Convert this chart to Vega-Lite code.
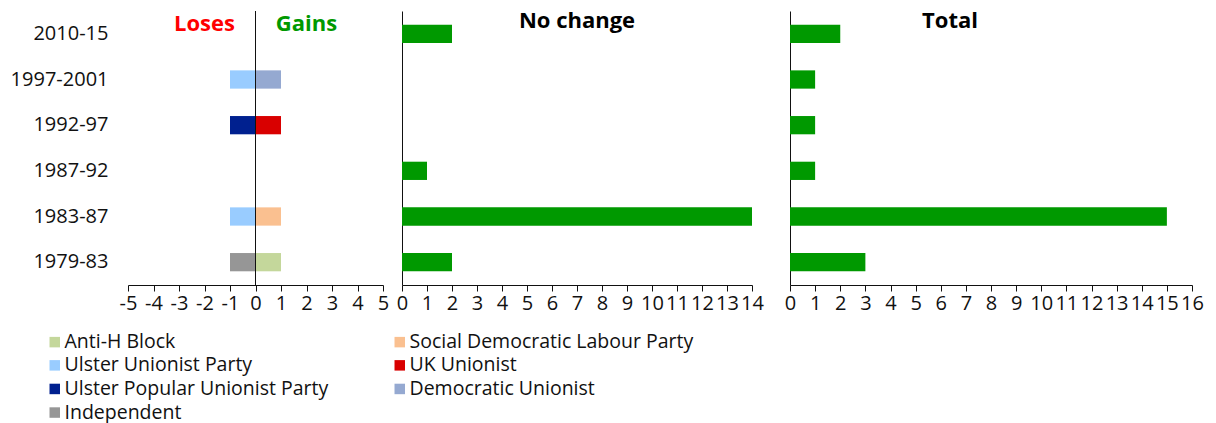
{
  "$schema": "https://vega.github.io/schema/vega-lite/v6.json",
  "padding": {"left": 10, "top": 10, "right": 5, "bottom": 5},
  "bounds": "flush",
  "spacing": 19,
  "config": {
    "font": "Open Sans",
    "view": {"stroke": null},
    "axis": {"labelFont": "Open Sans", "labelFontSize": 20, "labelColor": "#111111", "domainColor": "#111111", "tickColor": "#111111", "grid": false, "title": null, "labelFlush": false, "labelOverlap": false, "tickSize": 6},
    "title": {"font": "Open Sans", "fontSize": 22, "fontWeight": "bold", "color": "#000000"}
  },
  "hconcat": [
    {
      "width": 255,
      "height": 274,
      "encoding": {
        "y": {"field": "period", "type": "nominal", "scale": {"domain": ["2010-15", "1997-2001", "1992-97", "1987-92", "1983-87", "1979-83"], "paddingInner": 0.6, "paddingOuter": 0.3}, "axis": {"domain": false, "ticks": false, "labelPadding": 20, "title": null}},
        "x": {"field": "seats", "type": "quantitative", "scale": {"domain": [-5, 5]}, "axis": {"values": [-5, -4, -3, -2, -1, 0, 1, 2, 3, 4, 5], "title": null, "labelOverlap": false, "labelFlush": false, "labelExpr": "datum.value < 0 ? '-' + abs(datum.value) : '' + datum.value"}}
      },
      "layer": [
        {
          "data": {"values": [
            {"period": "1997-2001", "party": "Ulster Unionist Party", "seats": -1},
            {"period": "1997-2001", "party": "Democratic Unionist", "seats": 1},
            {"period": "1992-97", "party": "Ulster Popular Unionist Party", "seats": -1},
            {"period": "1992-97", "party": "UK Unionist", "seats": 1},
            {"period": "1983-87", "party": "Ulster Unionist Party", "seats": -1},
            {"period": "1983-87", "party": "Social Democratic Labour Party", "seats": 1},
            {"period": "1979-83", "party": "Independent", "seats": -1},
            {"period": "1979-83", "party": "Anti-H Block", "seats": 1}
          ]},
          "mark": {"type": "bar"},
          "encoding": {
            "color": {
              "field": "party", "type": "nominal",
              "scale": {"domain": ["Anti-H Block", "Ulster Unionist Party", "Ulster Popular Unionist Party", "Independent", "Social Democratic Labour Party", "UK Unionist", "Democratic Unionist"],
                        "range": ["#c4d79b", "#99ccff", "#00208f", "#969696", "#fac090", "#d90000", "#95a9d1"]},
              "legend": {"orient": "none", "legendX": -83, "legendY": 321, "columns": 2, "columnPadding": 61, "symbolType": "square", "symbolSize": 110, "symbolStrokeWidth": 0, "labelFontSize": 19.5, "labelFont": "Open Sans", "labelColor": "#111111", "labelLimit": 500, "title": null, "rowPadding": 2.6, "labelOffset": 0}
            }
          }
        },
        {
          "data": {"values": [{"seats": 0}]},
          "mark": {"type": "rule", "color": "#111111", "strokeWidth": 1},
          "encoding": {"y": null}
        },
        {
          "data": {"values": [{"label": "Loses", "seats": -2, "period": "2010-15"}]},
          "mark": {"type": "text", "fontWeight": "bold", "fontSize": 22, "dy": -10, "color": "#ff0000"},
          "encoding": {"text": {"field": "label"}}
        },
        {
          "data": {"values": [{"label": "Gains", "seats": 2, "period": "2010-15"}]},
          "mark": {"type": "text", "fontWeight": "bold", "fontSize": 22, "dy": -10, "color": "#009900"},
          "encoding": {"text": {"field": "label"}}
        }
      ]
    },
    {
      "bounds": "flush",
      "spacing": 38,
      "hconcat": [
        {
          "width": 350,
          "height": 274,
          "title": {"text": "No change", "offset": -22},
          "data": {"values": [
            {"period": "2010-15", "seats": 2},
            {"period": "1987-92", "seats": 1},
            {"period": "1983-87", "seats": 14},
            {"period": "1979-83", "seats": 2}
          ]},
          "mark": {"type": "bar", "color": "#009900"},
          "encoding": {
            "y": {"field": "period", "type": "nominal", "scale": {"domain": ["2010-15", "1997-2001", "1992-97", "1987-92", "1983-87", "1979-83"], "paddingInner": 0.6, "paddingOuter": 0.3}, "axis": {"labels": false, "ticks": false, "domain": true, "title": null}},
            "x": {"field": "seats", "type": "quantitative", "scale": {"domain": [0, 14]}, "axis": {"values": [0, 1, 2, 3, 4, 5, 6, 7, 8, 9, 10, 11, 12, 13, 14], "title": null, "labelOverlap": false, "labelFlush": false}}
          }
        },
        {
          "width": 402,
          "height": 274,
          "title": {"text": "Total", "offset": -22, "dx": -41},
          "data": {"values": [
            {"period": "2010-15", "seats": 2},
            {"period": "1997-2001", "seats": 1},
            {"period": "1992-97", "seats": 1},
            {"period": "1987-92", "seats": 1},
            {"period": "1983-87", "seats": 15},
            {"period": "1979-83", "seats": 3}
          ]},
          "mark": {"type": "bar", "color": "#009900"},
          "encoding": {
            "y": {"field": "period", "type": "nominal", "scale": {"domain": ["2010-15", "1997-2001", "1992-97", "1987-92", "1983-87", "1979-83"], "paddingInner": 0.6, "paddingOuter": 0.3}, "axis": {"labels": false, "ticks": false, "domain": true, "title": null}},
            "x": {"field": "seats", "type": "quantitative", "scale": {"domain": [0, 16]}, "axis": {"values": [0, 1, 2, 3, 4, 5, 6, 7, 8, 9, 10, 11, 12, 13, 14, 15, 16], "title": null, "labelOverlap": false, "labelFlush": false}}
          }
        }
      ]
    }
  ]
}
